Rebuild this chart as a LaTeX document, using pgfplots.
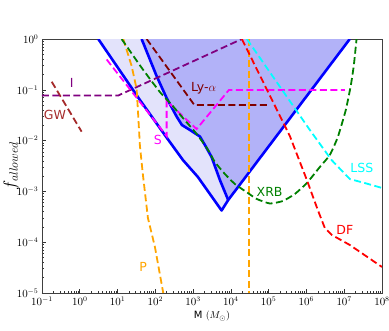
\documentclass[border=0pt]{standalone}
\usepackage{fontspec}
\setmainfont{DejaVu Sans}
\usepackage{pgfplots}
\pgfplotsset{compat=1.18}
\definecolor{lightfill}{HTML}{E3E3FB}
\definecolor{darkfill}{HTML}{B2B2F8}
\definecolor{gwcol}{HTML}{A52A2A}
\definecolor{lycol}{HTML}{800000}
\definecolor{icol}{HTML}{800080}
\definecolor{pcol}{HTML}{FFA500}
\definecolor{xcol}{HTML}{008000}
\definecolor{scol}{HTML}{FF00FF}
\definecolor{lcol}{HTML}{00FFFF}
\definecolor{dcol}{HTML}{FF0000}
\definecolor{bcol}{HTML}{0000FF}
\tikzset{
  dl/.style={line width=1.8pt, dash pattern=on 7pt off 3.5pt},
  lab/.style={font=\fontsize{12.5}{14}\selectfont, anchor=center},
}
\begin{document}
\begin{tikzpicture}
\path[use as bounding box] (-42pt,-37pt) rectangle (347pt,293pt);
\begin{axis}[
  at={(0pt,0pt)}, anchor=south west,
  width=340pt, height=254pt, scale only axis,
  xmode=log, ymode=log,
  xmin=0.1, xmax=1e8, ymin=1e-5, ymax=1,
  xtick={1e-1,1,10,100,1e3,1e4,1e5,1e6,1e7,1e8},
  ytick={1e-5,1e-4,1e-3,1e-2,1e-1,1},
  tick align=inside, xtick pos=bottom, ytick pos=left,
  major tick length=4pt, minor tick length=2pt,
  tick style={black!80, line width=0.6pt},
  axis line style={black!75, line width=0.8pt},
  tick label style={font=\fontsize{10.5}{12}\selectfont},
  label style={font=\fontsize{15}{17}\selectfont},
  xlabel={M $(M_\odot)$},
  ylabel={\fontsize{17}{19}\selectfont$f_{allowed}$},
  every axis x label/.style={at={(axis description cs:0.5,0)}, yshift=-23pt, anchor=center},
  every axis y label/.style={at={(axis description cs:0,0.5)}, xshift=-31pt, rotate=90, anchor=center},
]
% allowed regions
\addplot[fill=lightfill, draw=none] coordinates {
  (3.09,1) (39.1,0.0630) (203,0.01125) (537,0.00415) (1340,0.00192)
  (5675,4.21e-4) (8490,6.77e-4) (5117,0.00168) (3085,0.00475) (2052,0.00819)
  (1513,0.01205) (823,0.0162) (505,0.0203) (366,0.0298) (199,0.0690)
  (108,0.187) (43.4,1)} -- cycle;
\addplot[fill=darkfill, draw=none] coordinates {
  (43.4,1) (108,0.187) (199,0.0690) (366,0.0298) (505,0.0203) (823,0.0162)
  (1513,0.01205) (2052,0.00819) (3085,0.00475) (5117,0.00168) (8490,6.77e-4)
  (1.406e7,1)} -- cycle;
% boundaries
\addplot[bcol, line width=2.6pt, line join=round] coordinates {
  (3.09,1) (39.1,0.0630) (203,0.01125) (537,0.00415) (1340,0.00192)
  (5675,4.21e-4) (8490,6.77e-4) (1.406e7,1)};
\addplot[bcol, line width=2.6pt, line join=round] coordinates {
  (43.4,1) (108,0.187) (199,0.0690) (366,0.0298) (505,0.0203) (823,0.0162)
  (1513,0.01205) (2052,0.00819) (3085,0.00475) (5117,0.00168) (8490,6.77e-4)};
% GW
\addplot[gwcol, dl] coordinates {(0.181,0.144) (1.12,0.0150)};
% I
\addplot[icol, dl] coordinates {(0.1,0.0772) (10.4,0.0772) (19540,1)};
% Ly-alpha
\addplot[lycol, dl] coordinates {(58.9,1) (1080,0.0502) (89560,0.0502)};
% S
\addplot[scol, dl] coordinates {
  (5.15,0.395) (199,0.0123) (199,0.0602) (1238,0.0169) (8850,0.0991) (1.04e7,0.0991)};
% P
\addplot[pcol, dl] coordinates {
  (14.2,1) (23.6,0.294) (32.0,0.1037) (35.3,0.0305) (39.1,0.00783)
  (47.0,0.00210) (63.7,2.99e-4) (97.6,8.05e-5) (162,1e-5)};
\addplot[pcol, dl] coordinates {(3e4,1) (3e4,1e-5)};
% XRB
\addplot[xcol, dl, smooth, tension=0.3] coordinates {
  (12.8,1) (43.4,0.272) (132,0.0905) (275,0.0502) (537,0.0279) (1186,0.0141)
  (2317,0.00715) (3776,0.00379) (6934,0.00220) (12760,0.00140) (28180,9.30e-4)
  (48750,7.08e-4) (1.076e5,5.78e-4) (2.376e5,6.47e-4) (4.93e5,8.89e-4)
  (1.025e6,0.00146) (2.26e6,0.00302) (4.16e6,0.00521) (6.78e6,0.0118)
  (1.10e7,0.0400) (1.50e7,0.124) (1.80e7,0.308) (2.12e7,1)};
% DF
\addplot[dcol, dl] coordinates {
  (19540,1) (3.64e5,0.0123) (1.025e6,0.00168) (2.00e6,4.30e-4) (3.07e6,1.90e-4)
  (4.70e6,1.39e-4) (1.41e7,8.81e-5) (1e8,3.25e-5)};
% LSS
\addplot[lcol, dl] coordinates {
  (26490,1) (1.23e6,0.0162) (4.62e6,0.00415) (1.41e7,0.00175) (3.51e7,0.00146) (1e8,0.00117)};
% labels
\node[lab, icol] at (axis cs:0.611,0.134) {I};
\node[lab, gwcol] at (axis cs:0.221,0.0319) {GW};
\node[lab, lycol] at (axis cs:1900,0.108) {Ly-$\alpha$};
\node[lab, scol] at (axis cs:117,0.0103) {S};
\node[lab, pcol] at (axis cs:47.9,3.25e-5) {P};
\node[lab, xcol] at (axis cs:1.06e5,9.73e-4) {XRB};
\node[lab, dcol] at (axis cs:1.04e7,1.74e-4) {DF};
\node[lab, lcol] at (axis cs:2.92e7,0.00289) {LSS};
\end{axis}
\end{tikzpicture}
\end{document}
